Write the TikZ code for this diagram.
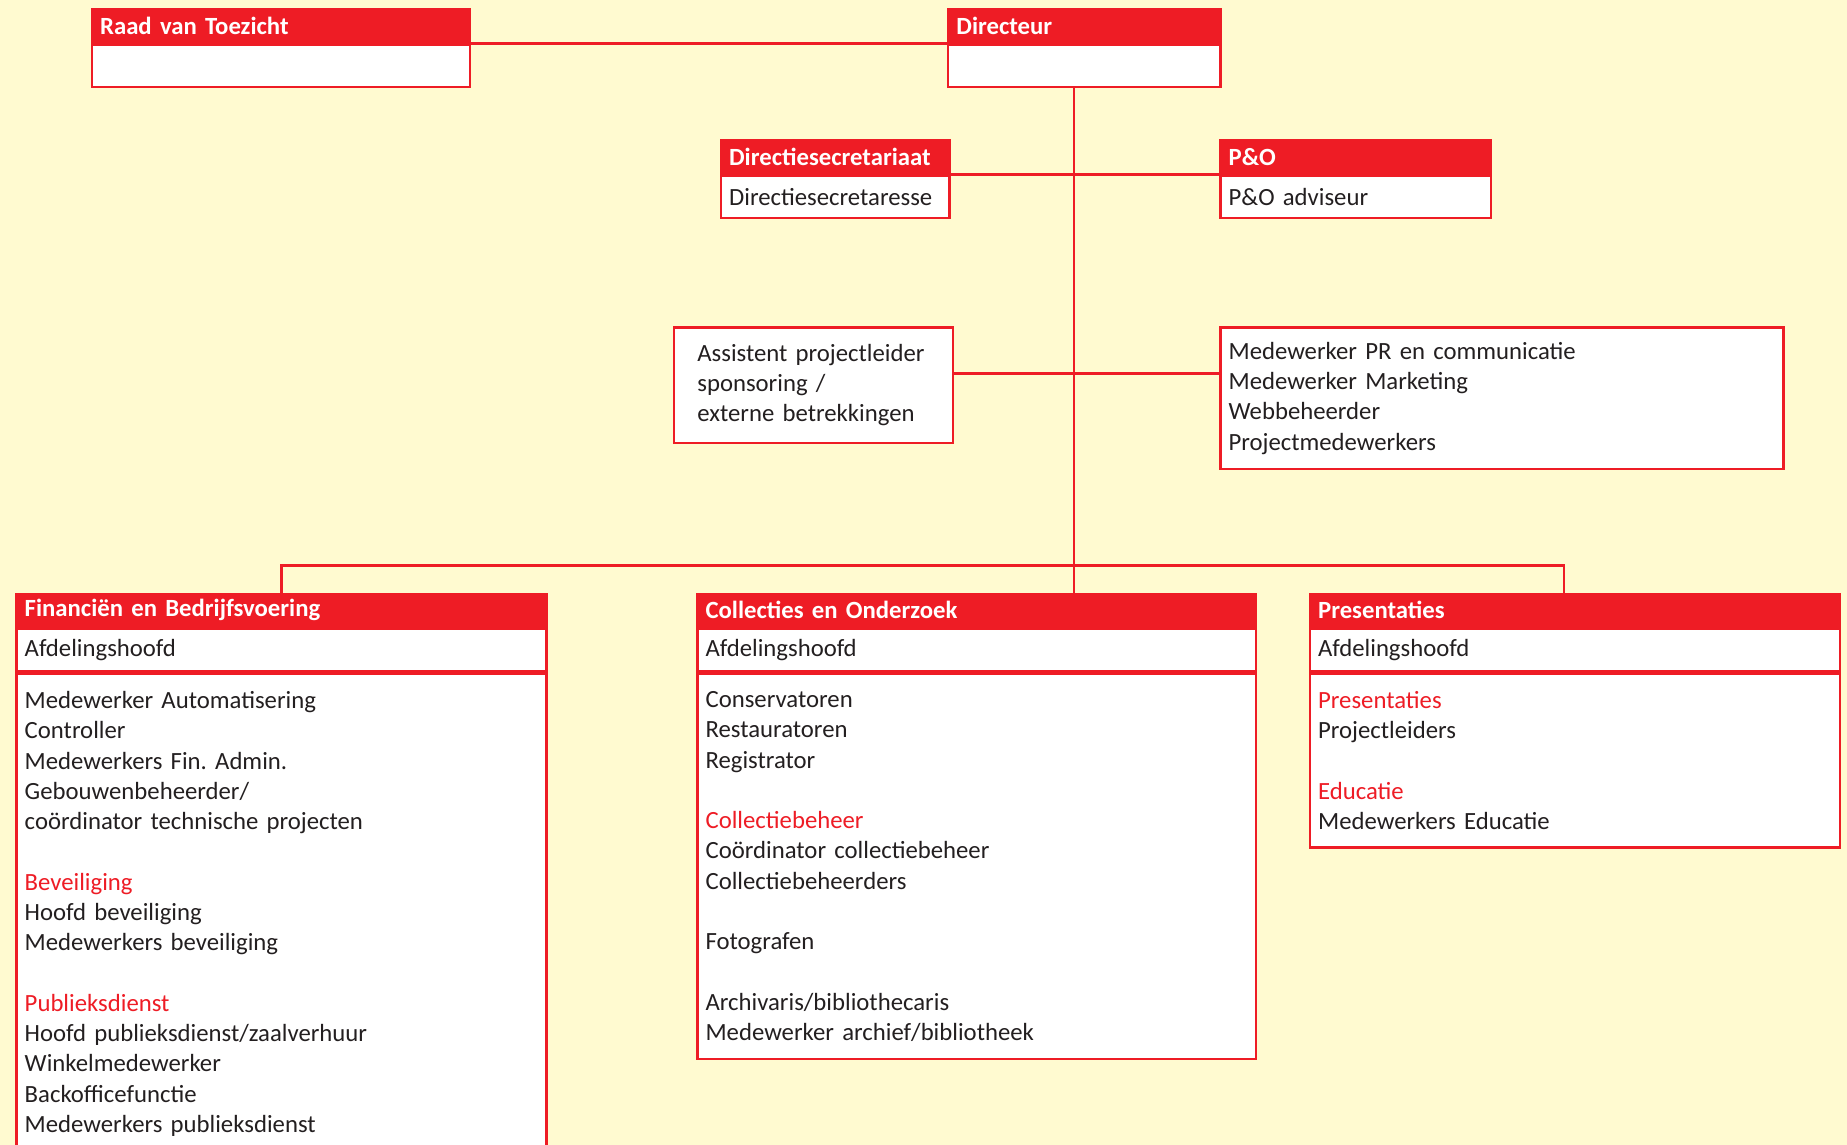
\documentclass[tikz,border=0pt]{standalone}
\usepackage{fontspec}
\setmainfont{Carlito}[WordSpace=0.8]
\frenchspacing
\usetikzlibrary{positioning}
\definecolor{rood}{HTML}{EE1C25}
\definecolor{geel}{HTML}{FFFAD0}
\definecolor{inkt}{HTML}{231F20}
\tikzset{
    head/.style = {rectangle,
                   fill=rood,
                   draw=rood,
                   text=white,
                   line width=2pt,
                   font=\bfseries\fontsize{21}{24}\selectfont,
                   inner xsep=7pt,
                   inner ysep=0pt,
                   minimum height=28pt,
                   anchor=north west,
                   align=left},
    row/.style = {rectangle,
                  fill=white,
                  draw=rood,
                  text=inkt,
                  line width=2pt,
                  font=\fontsize{21}{25.7}\selectfont,
                  inner xsep=7pt,
                  inner ysep=0pt,
                  minimum height=36pt,
                  align=left},
    body/.style = {rectangle,
                   fill=white,
                   draw=rood,
                   text=inkt,
                   line width=2pt,
                   font=\fontsize{21}{25.7}\selectfont,
                   inner xsep=7pt,
                   inner ysep=15pt,
                   align=left},
    wire/.style = {draw=rood,
                   line width=2pt}}

\begin{document}
\begin{tikzpicture}[x=1pt,y=-1pt]
    \fill[geel] (0,0) rectangle (1568,972);
    \useasboundingbox (0,0) rectangle (1568,972);
    % top
    \node[head, text width=307pt]   (raad) at (77,7)      {Raad van Toezicht};
    \node[row, text width=307pt]    (raadb) [below=0pt of raad] {};
    \node[head, text width=217pt]   (dir) at (804,7)      {Directeur};
    \node[row, text width=217pt]    (dirb) [below=0pt of dir] {};
    % staf
    \node[head, text width=180pt]   (sec) at (611,118)    {Directiesecretariaat};
    \node[row, text width=180pt]    (secb) [below=0pt of sec] {Directiesecretaresse};
    \node[head, text width=216pt]   (po) at (1035,118)    {P\&O};
    \node[row, text width=216pt]    (pob) [below=0pt of po] {P\&O adviseur};
    \node[body, anchor=north west, inner xsep=20pt, inner ysep=0pt,
          text width=197pt, minimum height=98pt] (asst) at (571,277)
          {Assistent projectleider\\ sponsoring /\\ externe betrekkingen};
    \node[body, anchor=north west, inner ysep=0pt,
          text width=464pt, minimum height=120pt] (pr) at (1035,277)
          {Medewerker PR en communicatie\\ Medewerker Marketing\\ Webbeheerder\\ Projectmedewerkers};
    % afdelingen
    \node[head, text width=436pt]   (fin) at (13,503)     {Financiën en Bedrijfsvoering};
    \node[row, text width=436pt]    (fina) [below=0pt of fin] {Afdelingshoofd};
    \node[body, text width=436pt]   (finb) [below=0pt of fina]
          {Medewerker Automatisering\\ Controller\\ Medewerkers Fin. Admin.\\
           Gebouwenbeheerder/\\ coördinator technische projecten\\ ~\\
           \textcolor{rood}{Beveiliging}\\ Hoofd beveiliging\\ Medewerkers beveiliging\\ ~\\
           \textcolor{rood}{Publieksdienst}\\ Hoofd publieksdienst/zaalverhuur\\
           Winkelmedewerker\\ Backofficefunctie\\ Medewerkers publieksdienst\\ ~};
    \node[head, text width=460pt]   (coll) at (591,503)   {Collecties en Onderzoek};
    \node[row, text width=460pt]    (colla) [below=0pt of coll] {Afdelingshoofd};
    \node[body, text width=460pt]   (collb) [below=0pt of colla]
          {Conservatoren\\ Restauratoren\\ Registrator\\ ~\\
           \textcolor{rood}{Collectiebeheer}\\ Coördinator collectiebeheer\\ Collectiebeheerders\\ ~\\
           Fotografen\\ ~\\
           Archivaris/bibliothecaris\\ Medewerker archief/bibliotheek};
    \node[head, text width=436pt]   (pres) at (1111,503)  {Presentaties};
    \node[row, text width=436pt]    (presa) [below=0pt of pres] {Afdelingshoofd};
    \node[body, text width=436pt]   (presb) [below=0pt of presa]
          {\textcolor{rood}{Presentaties}\\ Projectleiders\\ ~\\
           \textcolor{rood}{Educatie}\\ Medewerkers Educatie};
    % lijnen
    \coordinate (spine) at (912,0);
    \coordinate (mid) at (912,317);
    \coordinate (bus) at (912,480);
    \path[wire] (raad.south east) -- (dir.south west);
    \path[wire] (spine |- dirb.south) -- (spine |- coll.north);
    \path[wire] (sec.south east) -- (po.south west);
    \path[wire] (asst.east |- mid) -- (pr.west |- mid);
    \path[wire] (fin.north) |- (bus) -| ([xshift=-9pt]pres.north);
\end{tikzpicture}
\end{document}
